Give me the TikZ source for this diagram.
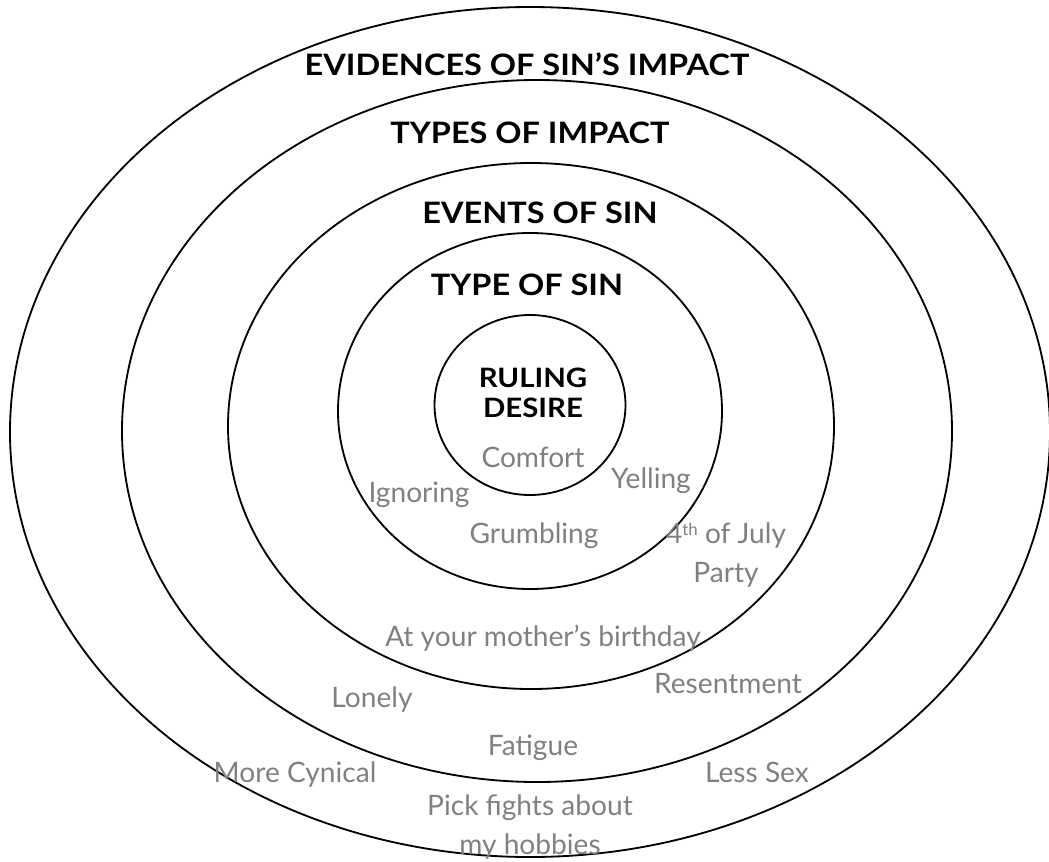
\documentclass[tikz,border=0pt]{standalone}
\usepackage{fontspec}
\setmainfont{Lato}
\newfontfamily\headfont{Lato}[FakeStretch=1.1]
\usepackage{tikz}
\definecolor{notegray}{RGB}{128,128,128}
\newcommand{\supth}{{\fontsize{12}{12}\selectfont\raisebox{5.5pt}{th}}}
\tikzset{
	ring/.style={line width=1.3pt},
	head/.style={font=\headfont\bfseries\fontsize{21}{22}\selectfont, anchor=base, inner sep=0pt},
	core/.style={head, font=\headfont\bfseries\fontsize{19}{20}\selectfont},
	note/.style={text=notegray, font=\fontsize{20}{27.5}\selectfont, anchor=base, inner sep=0pt, align=center}
}

\begin{document}
\begin{tikzpicture}[x=0.025cm, y=-0.025cm]
		%%%%% START %%%%%
		\useasboundingbox (0, 0) rectangle (1049, 861);
		
		\draw[ring] (530, 432) ellipse (520 and 425);
		\draw[ring] (537, 431) ellipse (415 and 351);
		\draw[ring] (531, 426) ellipse (303 and 263);
		\draw[ring] (530, 411) ellipse (192 and 178);
		\draw[ring] (530, 405) ellipse (95.5 and 90);
		
		% ring titles
		\node[head] (evid) at (527, 75) {EVIDENCES OF SIN’S IMPACT};
		\node[head] (types) at (530, 143) {TYPES OF IMPACT};
		\node[head] (events) at (540, 223) {EVENTS OF SIN};
		\node[head] (typesin) at (527, 295) {TYPE OF SIN};
		\node[core] (ruling) at (533, 387) {RULING};
		\node[core] (desire) at (533, 417) {DESIRE};
		
		% examples
		\node[note] (comfort) at (533, 467) {Comfort};
		\node[note] (yelling) at (651, 488) {Yelling};
		\node[note] (ignoring) at (419, 502) {Ignoring};
		\node[note] (grumbling) at (534, 543) {Grumbling};
		\node[note] (july) at (726, 582) {4\supth\ of July\\Party};
		\node[note] (birthday) at (543, 646) {At your mother’s birthday};
		\node[note] (lonely) at (372, 707) {Lonely};
		\node[note] (resent) at (728, 693) {Resentment};
		\node[note] (fatigue) at (533, 755) {Fatigue};
		\node[note] (cynical) at (295, 782) {More Cynical};
		\node[note] (lesssex) at (757, 782) {Less Sex};
		\node[note] (hobbies) at (530, 854) {Pick fights about\\my hobbies};
		%%%%% END %%%%%
\end{tikzpicture}
\end{document}
